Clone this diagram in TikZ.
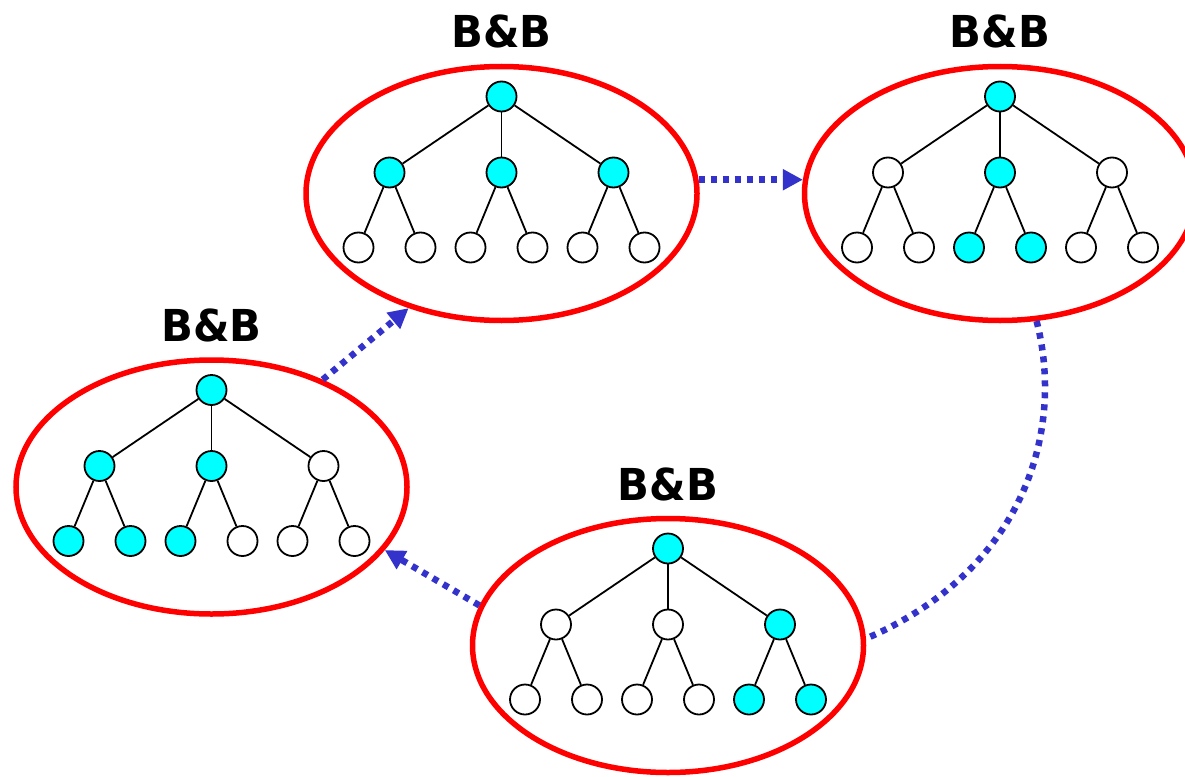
\documentclass[tikz,border=0pt]{standalone}
\usepackage{fontspec}
\newfontfamily\bbfont[FakeStretch=0.95]{DejaVu Sans}
\usetikzlibrary{shapes.geometric,arrows.meta}
\definecolor{bbcyan}{RGB}{0,255,255}
\definecolor{bbred}{RGB}{255,0,0}
\definecolor{bbblue}{RGB}{51,51,204}

\tikzset{
  vtx/.style={circle,draw=black,line width=1.8pt,minimum size=30pt,inner sep=0pt},
  edge/.style={line width=1.8pt},
  ring/.style={ellipse,draw=bbred,line width=5.5pt,minimum width=391pt,minimum height=254pt,inner sep=0pt},
  title/.style={font=\bbfont\bfseries\fontsize{44}{44}\selectfont,anchor=base,inner sep=0pt},
  flow/.style={draw=bbblue,line width=6.5pt,dash pattern=on 6pt off 6pt,
    -{Triangle[length=20pt,width=20pt]}},
}

% one branch-and-bound round: ellipse, title and a ternary tree of depth two
% #1 name, #2/#3 centre, #4 root fill, #5 child fills, #6 leaf fills
\newcommand\bbtree[6]{%
  \begin{scope}[shift={(#2,#3)}]
    \node[ring] (#1) at (0,0) {};
    \node[title] (#1-t) at (0,-145.5) {B\&B};
    \node[vtx,fill=#4] (#1-r) at (0,-97) {};
    \foreach \f [count=\i] in {#5} {
      \node[vtx,fill=\f] (#1-c\i) at ({112*(\i-2)},-21) {};
      \draw[edge] (#1-r) -- (#1-c\i);
    }
    \foreach \f [count=\k] in {#6} {
      \pgfmathtruncatemacro\p{(\k+1)/2}
      \pgfmathsetmacro\dx{112*(\p-2)+(isodd(\k)?-31:31)}
      \node[vtx,fill=\f] (#1-l\k) at (\dx,54) {};
      \draw[edge] (#1-c\p) -- (#1-l\k);
    }
  \end{scope}
}

\begin{document}
\begin{tikzpicture}[x=1pt,y=-1pt]
  \clip (0,0) rectangle (1185,776);

  \bbtree{e1}{501.5}{193.5}{bbcyan}{bbcyan,bbcyan,bbcyan}{white,white,white,white,white,white}
  \bbtree{e2}{1000}{193.5}{bbcyan}{white,bbcyan,white}{white,white,bbcyan,bbcyan,white,white}
  \bbtree{e3}{211.5}{487}{bbcyan}{bbcyan,bbcyan,white}{bbcyan,bbcyan,bbcyan,white,white,white}
  \bbtree{e4}{668}{645.5}{bbcyan}{white,white,bbcyan}{white,white,white,white,bbcyan,bbcyan}

  \draw[flow] (e3.44) -- (e1.231);
  \draw[flow] (e1.4) -- (e2.176);
  \draw[flow,-] (e2.286) .. controls (1065,430) and (1025,570) .. (e4.2);
  \draw[flow] (e4.168) -- (e3.340);
\end{tikzpicture}
\end{document}
